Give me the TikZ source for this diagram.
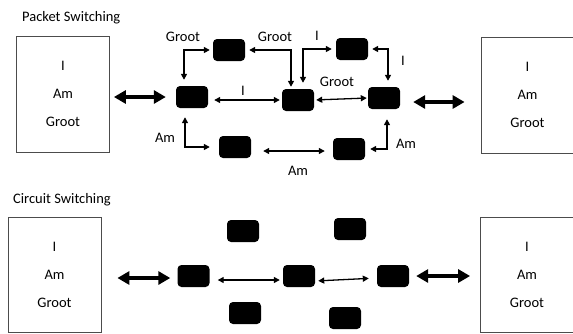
\documentclass[tikz,border=0pt]{standalone}
\usepackage{fontspec}
\setmainfont{Carlito}
\usetikzlibrary{arrows.meta}
\begin{document}
\begin{tikzpicture}[x=1pt,y=-1pt,
  sw/.style={fill=black, rounded corners=4pt, minimum width=32pt, minimum height=22pt, inner sep=0pt},
  host/.style={draw=black!70, line width=0.8pt, minimum width=93pt, minimum height=116pt, inner sep=0pt,
    align=center, font=\fontsize{14.5}{28}\selectfont},
  lbl/.style={font=\fontsize{14.5}{17}\selectfont, inner sep=0pt},
  ttl/.style={font=\fontsize{14.5}{17}\selectfont, inner sep=0pt, anchor=west},
  link/.style={line width=1.3pt, {Triangle[length=6pt,width=6pt]}-{Triangle[length=6pt,width=6pt]}},
  elbow/.style={line width=1.8pt, {Triangle[length=6pt,width=6pt]}-{Triangle[length=6pt,width=6pt]}},
  bigarrow/.style={line width=3.5pt, {Triangle[length=12pt,width=13pt]}-{Triangle[length=12pt,width=13pt]}},
]
\useasboundingbox (0,0) rectangle (573,333);

% ---------- Packet switching ----------
\node[ttl] (t1) at (22,18) {Packet Switching};
\node[host] (lb1) at (63,94) {I\\Am\\Groot};
\node[host] (rb1) at (527.5,95) {I\\Am\\Groot};

\node[sw] (A) at (192,97) {};
\node[sw] (B) at (229,50) {};
\node[sw] (C) at (235,147) {};
\node[sw] (D) at (298,100) {};
\node[sw] (E) at (352,49) {};
\node[sw] (F) at (384,98) {};
\node[sw] (G) at (349,149) {};

\coordinate (fr) at ([yshift=-4pt]F.east);
\draw[bigarrow, shorten <=4pt, shorten >=10pt] (lb1.east |- A) -- (A.west);
\draw[bigarrow, shorten <=13pt, shorten >=16pt] (fr) -- (rb1.west |- fr);

\draw[elbow, shorten <=6pt, shorten >=3pt] ([xshift=-8pt]A.north) |- (B.west);
\draw[elbow, shorten <=4pt, shorten >=2pt] (B.east) -| ([xshift=-7pt]D.north);
\draw[elbow, shorten <=6pt, shorten >=4pt] ([xshift=5pt]D.north) |- (E.west);
\draw[elbow, shorten <=4pt, shorten >=6pt] (E.east) -| ([xshift=4pt]F.north);
\draw[link, shorten <=6pt, shorten >=2pt] (A.east |- D) -- (D.west);
\draw[link, shorten <=2pt, shorten >=1pt] (D.east) -- (F.west);
\draw[elbow, shorten <=9pt, shorten >=9pt] ([xshift=-7pt]A.south) |- (C.west);
\draw[link, shorten <=12pt, shorten >=8pt] ([yshift=-4pt]C.east) -- ([yshift=-2pt]G.west);
\draw[elbow, shorten <=5pt, shorten >=10pt] (G.east) -| ([xshift=3pt]F.south);

\node[lbl] (l1) at (183,37) {Groot};
\node[lbl] (l2) at (275,37) {Groot};
\node[lbl] (l3) at (317,36) {I};
\node[lbl] (l4) at (403,61) {I};
\node[lbl] (l5) at (243,91) {I};
\node[lbl] (l6) at (337,82) {Groot};
\node[lbl] (l7) at (165,138) {Am};
\node[lbl] (l8) at (298,171) {Am};
\node[lbl] (l9) at (406,144) {Am};

% ---------- Circuit switching ----------
\node[ttl] (t2) at (13,200) {Circuit Switching};
\node[host, minimum height=115pt] (lb2) at (54.5,274.5) {I\\Am\\Groot};
\node[host, minimum height=115pt] (rb2) at (527,274.5) {I\\Am\\Groot};

\node[sw] (L) at (193.5,276) {};
\node[sw] (TL) at (243,231) {};
\node[sw] (BL) at (245,313) {};
\node[sw] (M) at (299,276) {};
\node[sw] (TR) at (350,229) {};
\node[sw] (BR) at (345,318) {};
\node[sw] (R) at (393,276) {};

\coordinate (lw) at ([yshift=-2pt]L.west);
\draw[bigarrow, shorten <=16pt, shorten >=7pt] (lb2.east |- lw) -- (lw);
\draw[link, shorten <=8pt, shorten >=3pt] ([yshift=-4pt]L.east) -- ([yshift=-4pt]M.west);
\draw[link, shorten <=3pt, shorten >=8pt] ([yshift=-5pt]M.east) -- ([yshift=-2pt]R.west);
\draw[bigarrow, shorten <=7pt, shorten >=10pt] (R.east) -- (rb2.west |- R);
\end{tikzpicture}
\end{document}
